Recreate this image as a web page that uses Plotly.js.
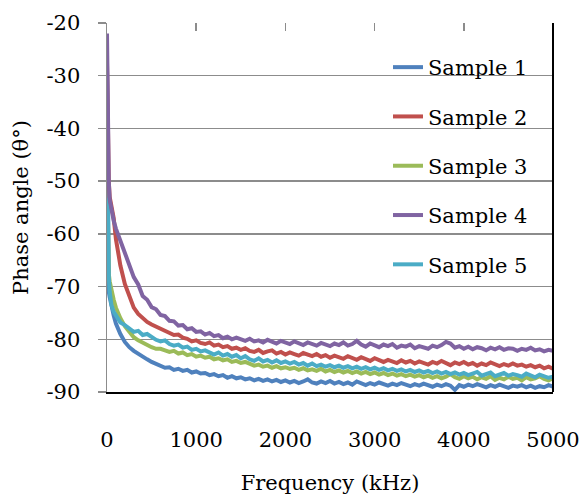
<!DOCTYPE html>
<html>
<head>
<meta charset="utf-8">
<script src="https://cdn.plot.ly/plotly-3.0.1.min.js"></script>
<style>html,body{margin:0;padding:0;background:#fff;}#chart{width:582px;height:496px;}</style>
</head>
<body>
<div id="chart"></div>
<script>
// Frequency (kHz)
const freq = [0, 10, 20, 30, 50, 75,
  100,150,200,250,300,350,400,450,500,550,
  600,650,700,750,800,850,900,950,1000,1050,
  1100,1150,1200,1250,1300,1350,1400,1450,1500,1550,
  1600,1650,1700,1750,1800,1850,1900,1950,2000,2050,
  2100,2150,2200,2250,2300,2350,2400,2450,2500,2550,
  2600,2650,2700,2750,2800,2850,2900,2950,3000,3050,
  3100,3150,3200,3250,3300,3350,3400,3450,3500,3550,
  3600,3650,3700,3750,3800,3850,3900,3950,4000,4050,
  4100,4150,4200,4250,4300,4350,4400,4450,4500,4550,
  4600,4650,4700,4750,4800,4850,4900,4950,5000];

const sample1 = [-29, -68, -71, -72, -74, -75.5,
  -77.0,-79.0,-80.5,-81.5,-82.2,-82.8,-83.3,-83.8,-84.3,-84.7,
  -85.0,-85.4,-85.3,-85.8,-85.6,-86.0,-85.8,-86.3,-86.1,-86.5,
  -86.4,-86.8,-86.6,-87.0,-86.8,-87.3,-87.0,-87.4,-87.2,-87.6,
  -87.4,-87.8,-87.5,-87.9,-87.6,-88.0,-87.7,-88.1,-87.8,-88.2,
  -87.9,-88.3,-88.0,-87.6,-88.2,-88.4,-88.0,-88.3,-87.9,-88.4,
  -88.1,-88.5,-88.2,-88.6,-88.0,-88.4,-88.7,-88.3,-88.6,-88.2,
  -88.5,-88.8,-88.4,-88.7,-88.3,-88.6,-88.9,-88.5,-88.8,-88.4,
  -88.7,-89.0,-88.6,-88.9,-88.5,-88.8,-89.6,-88.7,-89.0,-88.6,
  -88.9,-88.5,-88.8,-89.1,-88.7,-89.0,-88.6,-88.9,-89.2,-88.8,
  -89.0,-88.7,-89.1,-88.8,-89.2,-88.9,-89.1,-88.7,-89.0];

const sample2 = [-27.5, -45, -50, -53, -55, -57,
  -61.0,-66.0,-69.5,-72.0,-74.0,-75.2,-76.0,-76.7,-77.2,-77.6,
  -78.0,-78.4,-78.7,-79.2,-79.1,-79.7,-79.9,-80.4,-80.2,-80.7,
  -80.9,-80.6,-81.2,-81.0,-81.5,-81.3,-81.8,-81.6,-82.0,-81.7,
  -82.2,-82.4,-82.0,-82.6,-82.3,-82.1,-82.7,-82.4,-82.9,-82.5,
  -82.8,-83.1,-82.6,-82.9,-83.2,-82.8,-83.3,-83.0,-83.5,-83.1,
  -83.4,-83.7,-83.2,-83.6,-83.9,-83.4,-83.8,-84.1,-83.6,-84.0,
  -84.3,-83.9,-84.2,-84.5,-84.0,-84.4,-84.1,-84.6,-84.2,-84.5,
  -84.8,-84.3,-84.6,-84.1,-84.5,-84.9,-84.4,-84.7,-84.3,-84.8,
  -84.5,-85.0,-84.6,-84.9,-84.4,-84.8,-85.1,-84.7,-85.0,-84.6,
  -85.0,-84.8,-85.2,-84.9,-85.3,-85.0,-85.5,-85.2,-85.6];

const sample3 = [-45, -65, -67.5, -69, -71, -72.5,
  -74.0,-76.0,-77.5,-78.7,-79.6,-80.2,-80.7,-81.1,-81.5,-81.8,
  -81.8,-82.1,-82.4,-82.2,-82.7,-82.5,-83.0,-82.8,-83.3,-83.1,
  -83.5,-83.3,-83.8,-83.6,-84.0,-83.8,-84.3,-84.1,-84.5,-84.3,
  -84.7,-85.0,-84.8,-85.2,-85.0,-85.4,-85.1,-85.5,-85.3,-85.6,
  -85.4,-85.8,-85.5,-85.9,-85.7,-86.0,-85.6,-86.1,-85.8,-86.2,
  -85.9,-86.3,-86.0,-86.4,-86.1,-86.5,-86.2,-86.6,-86.3,-86.7,
  -86.4,-86.8,-86.5,-86.9,-86.6,-87.0,-86.7,-87.1,-86.8,-87.2,
  -86.9,-87.3,-87.0,-87.4,-87.1,-86.6,-87.2,-87.5,-87.0,-87.4,
  -87.1,-87.6,-87.2,-87.5,-87.0,-87.7,-87.3,-87.6,-87.1,-87.5,
  -87.3,-87.8,-87.2,-87.6,-87.4,-87.0,-87.5,-87.8,-87.4];

const sample4 = [-22, -40, -50, -53.5, -55.5, -57.5,
  -59.0,-61.2,-63.8,-65.5,-68.2,-69.6,-71.8,-72.5,-73.9,-74.3,
  -75.4,-75.6,-76.5,-76.6,-77.4,-77.3,-78.1,-77.9,-78.6,-78.5,
  -79.1,-78.8,-79.4,-79.2,-79.8,-79.5,-80.0,-79.7,-80.1,-80.3,
  -79.9,-80.4,-80.2,-80.6,-80.1,-80.5,-80.8,-80.3,-80.7,-80.9,
  -80.4,-80.8,-81.1,-80.6,-80.9,-81.2,-80.7,-81.0,-81.3,-80.8,
  -81.1,-80.6,-81.2,-80.9,-80.3,-81.0,-81.4,-80.8,-81.1,-81.5,
  -81.0,-81.3,-80.9,-81.6,-81.2,-81.4,-81.0,-81.7,-81.3,-81.5,
  -81.8,-81.2,-81.5,-81.1,-80.5,-80.8,-81.6,-81.3,-81.8,-81.4,
  -81.9,-81.5,-81.7,-82.1,-81.6,-81.9,-81.5,-82.0,-81.7,-81.8,
  -82.2,-81.8,-82.0,-81.6,-82.1,-81.9,-82.3,-82.0,-82.2];

const sample5 = [-40, -62, -68, -71, -73.5, -74.8,
  -75.6,-76.8,-77.3,-77.9,-78.6,-78.4,-79.2,-79.0,-79.6,-80.1,
  -80.4,-80.2,-80.9,-81.2,-81.0,-81.6,-81.4,-82.0,-81.8,-82.3,
  -82.1,-82.6,-82.9,-82.5,-83.1,-82.8,-83.3,-83.0,-83.6,-83.2,
  -83.8,-84.1,-83.6,-84.2,-83.9,-84.4,-84.0,-84.5,-84.2,-84.6,
  -84.3,-84.8,-84.5,-85.0,-84.6,-85.1,-84.8,-85.2,-84.9,-85.3,
  -85.0,-85.4,-85.1,-85.5,-85.2,-85.6,-85.3,-85.7,-85.4,-85.8,
  -85.5,-85.9,-85.6,-86.0,-85.7,-86.1,-85.8,-86.2,-85.9,-86.3,
  -86.0,-86.4,-86.1,-86.5,-86.2,-86.6,-86.3,-86.7,-86.4,-86.8,
  -86.5,-86.2,-86.9,-86.6,-86.3,-87.0,-86.7,-86.4,-86.9,-86.6,
  -86.8,-87.1,-86.5,-86.9,-87.2,-86.7,-87.0,-87.3,-87.1];

const seriesNames = ["Sample 1", "Sample 2", "Sample 3", "Sample 4", "Sample 5"];
const seriesData = [sample1, sample2, sample3, sample4, sample5];
const seriesColors = ["#4F81BD", "#C0504D", "#9BBB59", "#8064A2", "#4BACC6"];

const FONT = "DejaVu Serif, Liberation Serif, serif";

const traces = seriesNames.map((name, i) => ({
  type: "scatter",
  mode: "lines",
  name: name,
  legendgroup: "g" + i,
  legendrank: i + 1,
  x: freq,
  y: seriesData[i],
  line: {color: seriesColors[i], width: 4}
}));
const order = [0, 2, 4, 1, 3];
const drawTraces = order.map(i => traces[i]);

const layout = {
  width: 582,
  height: 496,
  margin: {l: 107, r: 29, t: 23, b: 104},
  paper_bgcolor: "#ffffff",
  plot_bgcolor: "#ffffff",
  font: {family: FONT, size: 21, color: "#000"},
  showlegend: true,
  legend: {
    x: 0.63, xanchor: "left",
    y: 0.935, yanchor: "top",
    bgcolor: "rgba(0,0,0,0)",
    font: {family: FONT, size: 21, color: "#000"},
    traceorder: "grouped",
    tracegroupgap: 19
  },
  xaxis: {
    range: [0, 5000],
    tickvals: [0, 1000, 2000, 3000, 4000, 5000],
    ticktext: ["0", "1000", "2000", "3000", "4000", "5000"],
    showgrid: false,
    zeroline: false,
    showline: true,
    linecolor: "#000",
    linewidth: 2,
    ticks: "",
    ticklabelstandoff: 28,
    tickfont: {family: FONT, size: 21, color: "#000"},
    title: {text: "Frequency (kHz)", font: {family: FONT, size: 21, color: "#000"}, standoff: 24}
  },
  xaxis2: {
    overlaying: "x",
    side: "top",
    range: [0, 5000],
    tickvals: [0, 1000, 2000, 3000, 4000, 5000],
    showticklabels: false,
    ticks: "inside",
    ticklen: 8,
    tickwidth: 1.5,
    tickcolor: "#8c8c8c",
    showgrid: false,
    zeroline: false,
    showline: false
  },
  yaxis: {
    range: [-90, -20],
    tickvals: [-90, -80, -70, -60, -50, -40, -30, -20],
    ticktext: ["-90", "-80", "-70", "-60", "-50", "-40", "-30", "-20"],
    showgrid: true,
    gridcolor: "#8c8c8c",
    gridwidth: 1.5,
    zeroline: false,
    showline: true,
    linecolor: "#8c8c8c",
    linewidth: 1.5,
    ticks: "outside",
    ticklen: 8,
    tickwidth: 1.5,
    tickcolor: "#8c8c8c",
    ticklabelstandoff: 13,
    tickfont: {family: FONT, size: 21, color: "#000"},
    title: {text: "Phase angle (θ°)", font: {family: FONT, size: 21, color: "#000"}, standoff: 12}
  },
  shapes: [
    {type: "line", xref: "paper", yref: "paper", x0: 1, x1: 1, y0: 0, y1: 1,
     line: {color: "#000", width: 2}}
  ]
};

drawTraces.push({type: "scatter", mode: "lines", x: [0, 5000], y: [-20, -20], xaxis: "x2",
  line: {color: "rgba(0,0,0,0)", width: 0}, showlegend: false, hoverinfo: "skip"});

Plotly.newPlot("chart", drawTraces, layout, {displayModeBar: false, staticPlot: true});
</script>
</body>
</html>
